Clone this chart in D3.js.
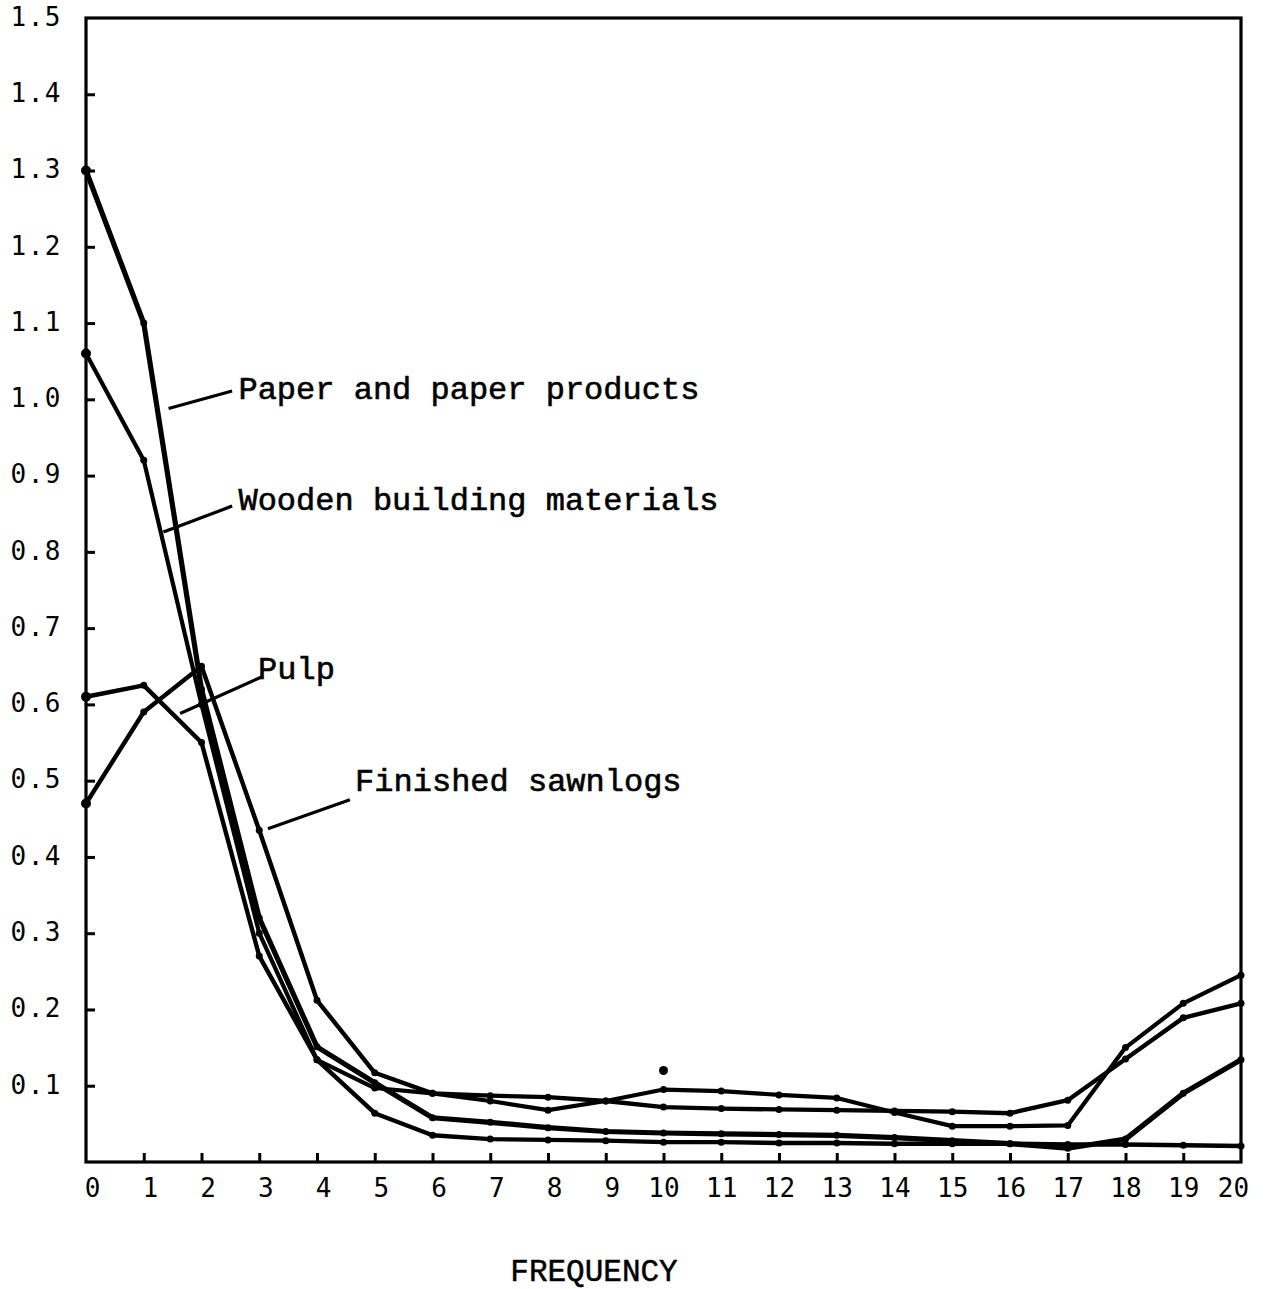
<!DOCTYPE html>
<html>
<head>
<meta charset="utf-8">
<script src="https://cdn.jsdelivr.net/npm/d3@7/dist/d3.min.js"></script>
<style>
  html, body { margin: 0; padding: 0; background: #fff; }
  svg { display: block; }
</style>
</head>
<body>
<svg id="chart" width="1271" height="1289"></svg>
<script>
// ---- data ----
const frequency = [0,1,2,3,4,5,6,7,8,9,10,11,12,13,14,15,16,17,18,19,20];
const paperProducts   = [1.30,1.10,0.62,0.32,0.151,0.104,0.058,0.052,0.045,0.040,0.038,0.037,0.036,0.035,0.032,0.028,0.024,0.018,0.030,0.090,0.134];
const woodenBuilding  = [1.06,0.92,0.60,0.30,0.134,0.097,0.090,0.080,0.068,0.080,0.095,0.093,0.088,0.084,0.065,0.047,0.047,0.048,0.150,0.208,0.245];
const pulp            = [0.61,0.625,0.55,0.27,0.134,0.064,0.035,0.030,0.029,0.028,0.026,0.026,0.025,0.025,0.024,0.024,0.024,0.023,0.023,0.022,0.021];
const finishedSawnlogs= [0.47,0.59,0.65,0.435,0.212,0.117,0.090,0.087,0.085,0.080,0.072,0.070,0.069,0.068,0.067,0.066,0.064,0.081,0.135,0.189,0.208];
const strayPoint = [10, 0.12];
const yTickValues = [0.1,0.2,0.3,0.4,0.5,0.6,0.7,0.8,0.9,1.0,1.1,1.2,1.3,1.4,1.5];
const xTickValues = frequency;
const seriesNames = ["Paper and paper products","Wooden building materials","Pulp","Finished sawnlogs"];
// label anchor (frequency, value) and leader start/end (frequency, value)
const labelAt  = [[2.64,1.0],[2.64,0.855],[2.98,0.633],[4.66,0.487]];
const leaderFrom = [[1.43,0.988],[1.34,0.826],[1.63,0.588],[3.15,0.437]];
const leaderTo   = [[2.53,1.011],[2.53,0.86],[3.04,0.636],[4.57,0.475]];
const axisTitle = "FREQUENCY";

// ---- chart ----
const svg = d3.select("#chart");
const x = d3.scaleLinear().domain([0,20]).range([86,1241]);
const y = d3.scaleLinear().domain([0,1.5]).range([1162,18]);

const allSeries = [paperProducts, woodenBuilding, pulp, finishedSawnlogs];
const widths = [5.2, 4.2, 4.4, 4.4];
const monoSerif = "'Liberation Mono', 'Courier New', monospace";
const monoSans = "'DejaVu Sans Mono', monospace";

// frame
svg.append("rect")
  .attr("x", x(0)).attr("y", y(1.5))
  .attr("width", x(20)-x(0)).attr("height", y(0)-y(1.5))
  .attr("fill","none").attr("stroke","#000").attr("stroke-width",3.2);

// y axis
const yAxis = d3.axisLeft(y).tickValues(yTickValues)
  .tickSizeInner(-9).tickSizeOuter(0).tickPadding(24)
  .tickFormat(d3.format(".1f"));
const gy = svg.append("g").attr("transform",`translate(${x(0)},0)`).call(yAxis);
gy.select(".domain").remove();
gy.selectAll(".tick line").attr("stroke","#000").attr("stroke-width",3)
  .filter(d => d === 1.5).remove();
gy.selectAll(".tick text")
  .attr("font-family", monoSans)
  .attr("font-size",26).attr("fill","#000").attr("letter-spacing",1.5)
  .attr("dy","0.28em");

// x axis
const xAxis = d3.axisBottom(x).tickValues(xTickValues)
  .tickSizeInner(-9).tickSizeOuter(0).tickPadding(17)
  .tickFormat(d3.format("d"));
const gx = svg.append("g").attr("transform",`translate(0,${y(0)})`).call(xAxis);
gx.select(".domain").remove();
gx.selectAll(".tick line").attr("stroke","#000").attr("stroke-width",3)
  .filter(d => d === 0 || d === 20).remove();
gx.selectAll(".tick text")
  .attr("font-family", monoSans)
  .attr("font-size",26).attr("fill","#000")
  .attr("dx", d => d < 10 ? 6 : (d === 20 ? -8 : 0));

// axis title
svg.append("text")
  .attr("x", 594).attr("y", 1281)
  .attr("text-anchor","middle")
  .attr("font-family", monoSerif)
  .attr("font-size",31).attr("fill","#000")
  .attr("stroke","#000").attr("stroke-width",0.5)
  .text(axisTitle);

// lines
const line = d3.line().x((d,i) => x(frequency[i])).y(d => y(d));
allSeries.forEach((s,k) => {
  svg.append("path").datum(s)
    .attr("d", line)
    .attr("fill","none").attr("stroke","#000")
    .attr("stroke-width", widths[k])
    .attr("stroke-linejoin","round").attr("stroke-linecap","round");
  svg.append("g").selectAll("circle").data(s).join("circle")
    .attr("cx",(d,i) => x(frequency[i])).attr("cy", d => y(d))
    .attr("r",(d,i) => i === 0 ? 5 : 3.5)
    .attr("fill","#000");
});

// stray marker
svg.append("circle").attr("cx", x(strayPoint[0])).attr("cy", y(strayPoint[1]))
  .attr("r",4.5).attr("fill","#000");

// labels & leader lines
seriesNames.forEach((name,k) => {
  svg.append("line")
    .attr("x1", x(leaderFrom[k][0])).attr("y1", y(leaderFrom[k][1]))
    .attr("x2", x(leaderTo[k][0])).attr("y2", y(leaderTo[k][1]))
    .attr("stroke","#000").attr("stroke-width",3.2);
  svg.append("text")
    .attr("x", x(labelAt[k][0])).attr("y", y(labelAt[k][1]))
    .attr("font-family", monoSerif)
    .attr("font-size",32).attr("fill","#000")
    .attr("stroke","#000").attr("stroke-width",0.6)
    .text(name);
});
</script>
</body>
</html>
